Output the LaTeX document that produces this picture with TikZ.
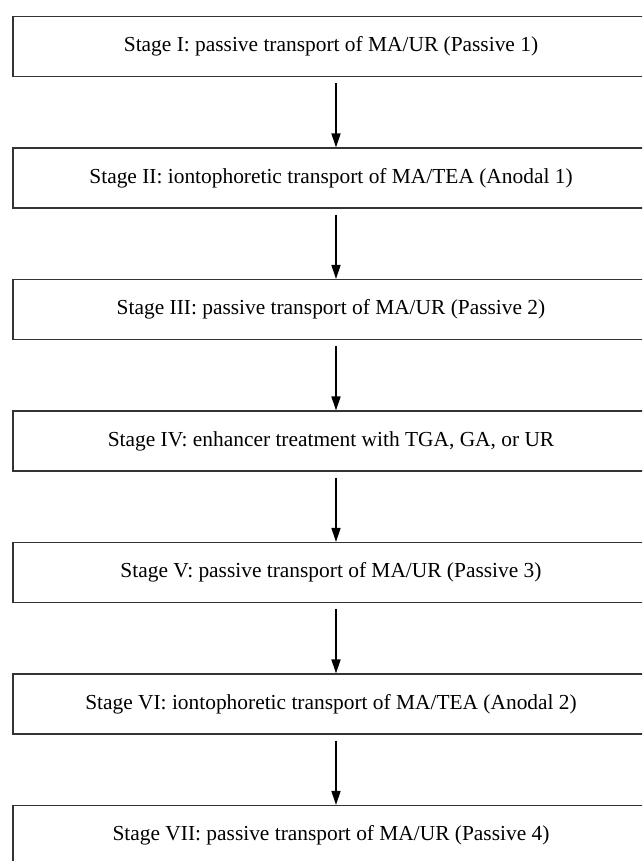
\documentclass[tikz,border=0pt]{standalone}
\usepackage{fontspec}
\setmainfont{Liberation Serif}
\usetikzlibrary{arrows.meta}
\begin{document}
\begin{tikzpicture}[x=1pt,y=-1pt,
  stagebox/.style={draw=black!80, line width=1.1pt, rectangle, minimum width=636pt,
    minimum height=60pt, inner sep=0pt, font=\fontsize{21.4}{24}\selectfont},
  flow/.style={line width=1.6pt, -{Triangle[length=14pt,width=9pt]}}]
\useasboundingbox (0,0) rectangle (642,861);
\clip (0,0) rectangle (642,861);
\node[stagebox] (s1) at (331,46.5) {Stage I: passive transport of MA/UR (Passive 1)};
\node[stagebox] (s2) at (331,178) {Stage II: iontophoretic transport of MA/TEA (Anodal 1)};
\node[stagebox] (s3) at (331,309.5) {Stage III: passive transport of MA/UR (Passive 2)};
\node[stagebox] (s4) at (331,441) {Stage IV: enhancer treatment with TGA, GA, or UR};
\node[stagebox] (s5) at (331,572.5) {Stage V: passive transport of MA/UR (Passive 3)};
\node[stagebox] (s6) at (331,704) {Stage VI: iontophoretic transport of MA/TEA (Anodal 2)};
\node[stagebox] (s7) at (331,835.5) {Stage VII: passive transport of MA/UR (Passive 4)};
\foreach \a/\b in {s1/s2,s2/s3,s3/s4,s4/s5,s5/s6,s6/s7}
  \draw[flow] ([xshift=5pt,yshift=-6pt]\a.south) -- ([xshift=5pt]\b.north);
\end{tikzpicture}
\end{document}
